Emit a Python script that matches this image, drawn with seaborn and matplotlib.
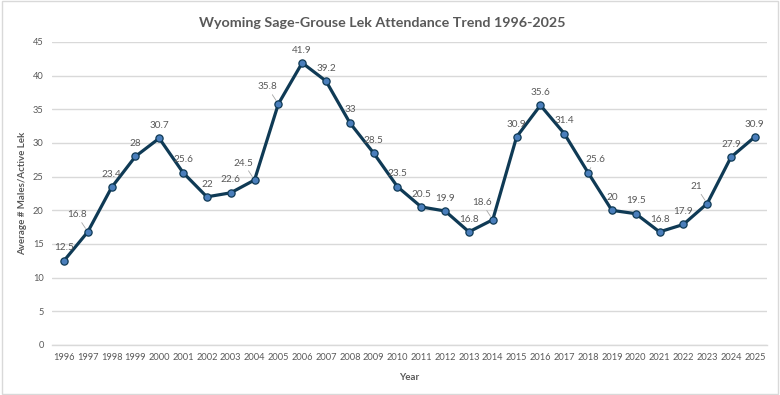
import matplotlib
matplotlib.use("Agg")
import matplotlib.pyplot as plt
import seaborn as sns
import pandas as pd
from matplotlib.patches import Rectangle

# data
years = [str(y) for y in range(1996, 2026)]
avg_males = [12.5, 16.8, 23.4, 28, 30.7, 25.6, 22, 22.6, 24.5, 35.8,
             41.9, 39.2, 33, 28.5, 23.5, 20.5, 19.9, 16.8, 18.6, 30.9,
             35.6, 31.4, 25.6, 20, 19.5, 16.8, 17.9, 21, 27.9, 30.9]
value_labels = ["12.5", "16.8", "23.4", "28", "30.7", "25.6", "22", "22.6",
                "24.5", "35.8", "41.9", "39.2", "33", "28.5", "23.5", "20.5",
                "19.9", "16.8", "18.6", "30.9", "35.6", "31.4", "25.6", "20",
                "19.5", "16.8", "17.9", "21", "27.9", "30.9"]

# label placement tweaks (offset points); labels with a leader line sit left
shifted_left = {"1997", "2004", "2005", "2014", "2023"}
shifted_right = {"2018"}

TEXT = "#595959"
LINE = "#0F3A55"
MARK = "#4A7EBB"
GRID = "#D9D9D9"

sns.set_style("white")
plt.rcParams["font.family"] = ["Lato", "DejaVu Sans"]

df = pd.DataFrame({"Year": years, "Avg": avg_males})

fig = plt.figure(figsize=(7.8, 3.95), dpi=100)
ax = fig.add_axes([0.0667, 0.1266, 0.9163, 0.7671])

sns.pointplot(data=df, x="Year", y="Avg", color=LINE, markers="o",
              linewidth=2.3, markersize=5.2, markerfacecolor=MARK,
              markeredgecolor=LINE, markeredgewidth=0.9, ax=ax, zorder=3)

ax.set_ylim(0, 45)
ax.set_xlim(-0.5, len(years) - 0.5)
ax.set_yticks(range(0, 46, 5))
ax.yaxis.grid(True, color=GRID, linewidth=1)
ax.set_axisbelow(True)
for side in ["left", "right", "top"]:
    ax.spines[side].set_visible(False)
ax.spines["bottom"].set_color(GRID)
ax.spines["bottom"].set_linewidth(1)

ax.tick_params(axis="y", length=0, labelsize=6.7, labelcolor=TEXT, pad=6)
ax.tick_params(axis="x", which="major", length=0, labelsize=6.7,
               labelcolor=TEXT, pad=6)
ax.set_xticks([i + 0.5 for i in range(-1, len(years))], minor=True)
ax.tick_params(axis="x", which="minor", length=4, color=GRID, width=1)

ax.set_xlabel("Year", fontsize=7, fontweight="bold", color=TEXT, labelpad=8)
ax.set_ylabel("Average # Males/Active Lek", fontsize=7, fontweight="bold",
              color=TEXT, labelpad=4)

for i, (yr, v, lab) in enumerate(zip(years, avg_males, value_labels)):
    if yr in shifted_left:
        ax.annotate(lab, (i, v), xytext=(-8, 9), textcoords="offset points",
                    ha="center", va="bottom", fontsize=7.2, color=TEXT,
                    arrowprops=dict(arrowstyle="-", color="#A6A6A6", lw=0.6,
                                    shrinkA=0, shrinkB=3))
    elif yr in shifted_right:
        ax.annotate(lab, (i, v), xytext=(5, 6), textcoords="offset points",
                    ha="center", va="bottom", fontsize=7.2, color=TEXT,
                    arrowprops=dict(arrowstyle="-", color="#A6A6A6", lw=0.6,
                                    shrinkA=0, shrinkB=3))
    else:
        ax.annotate(lab, (i, v), xytext=(0, 6), textcoords="offset points",
                    ha="center", va="bottom", fontsize=7.2, color=TEXT)

fig.text(0.4904, 0.943, "Wyoming Sage-Grouse Lek Attendance Trend 1996-2025",
         ha="center", va="center", fontsize=10.3, fontweight="bold",
         color=TEXT)

fig.patches.append(Rectangle((0.002, 0.003), 0.995, 0.994,
                             transform=fig.transFigure, fill=False,
                             edgecolor="#D9D9D9", linewidth=1))

fig.savefig("out.png", dpi=100, facecolor="white")
